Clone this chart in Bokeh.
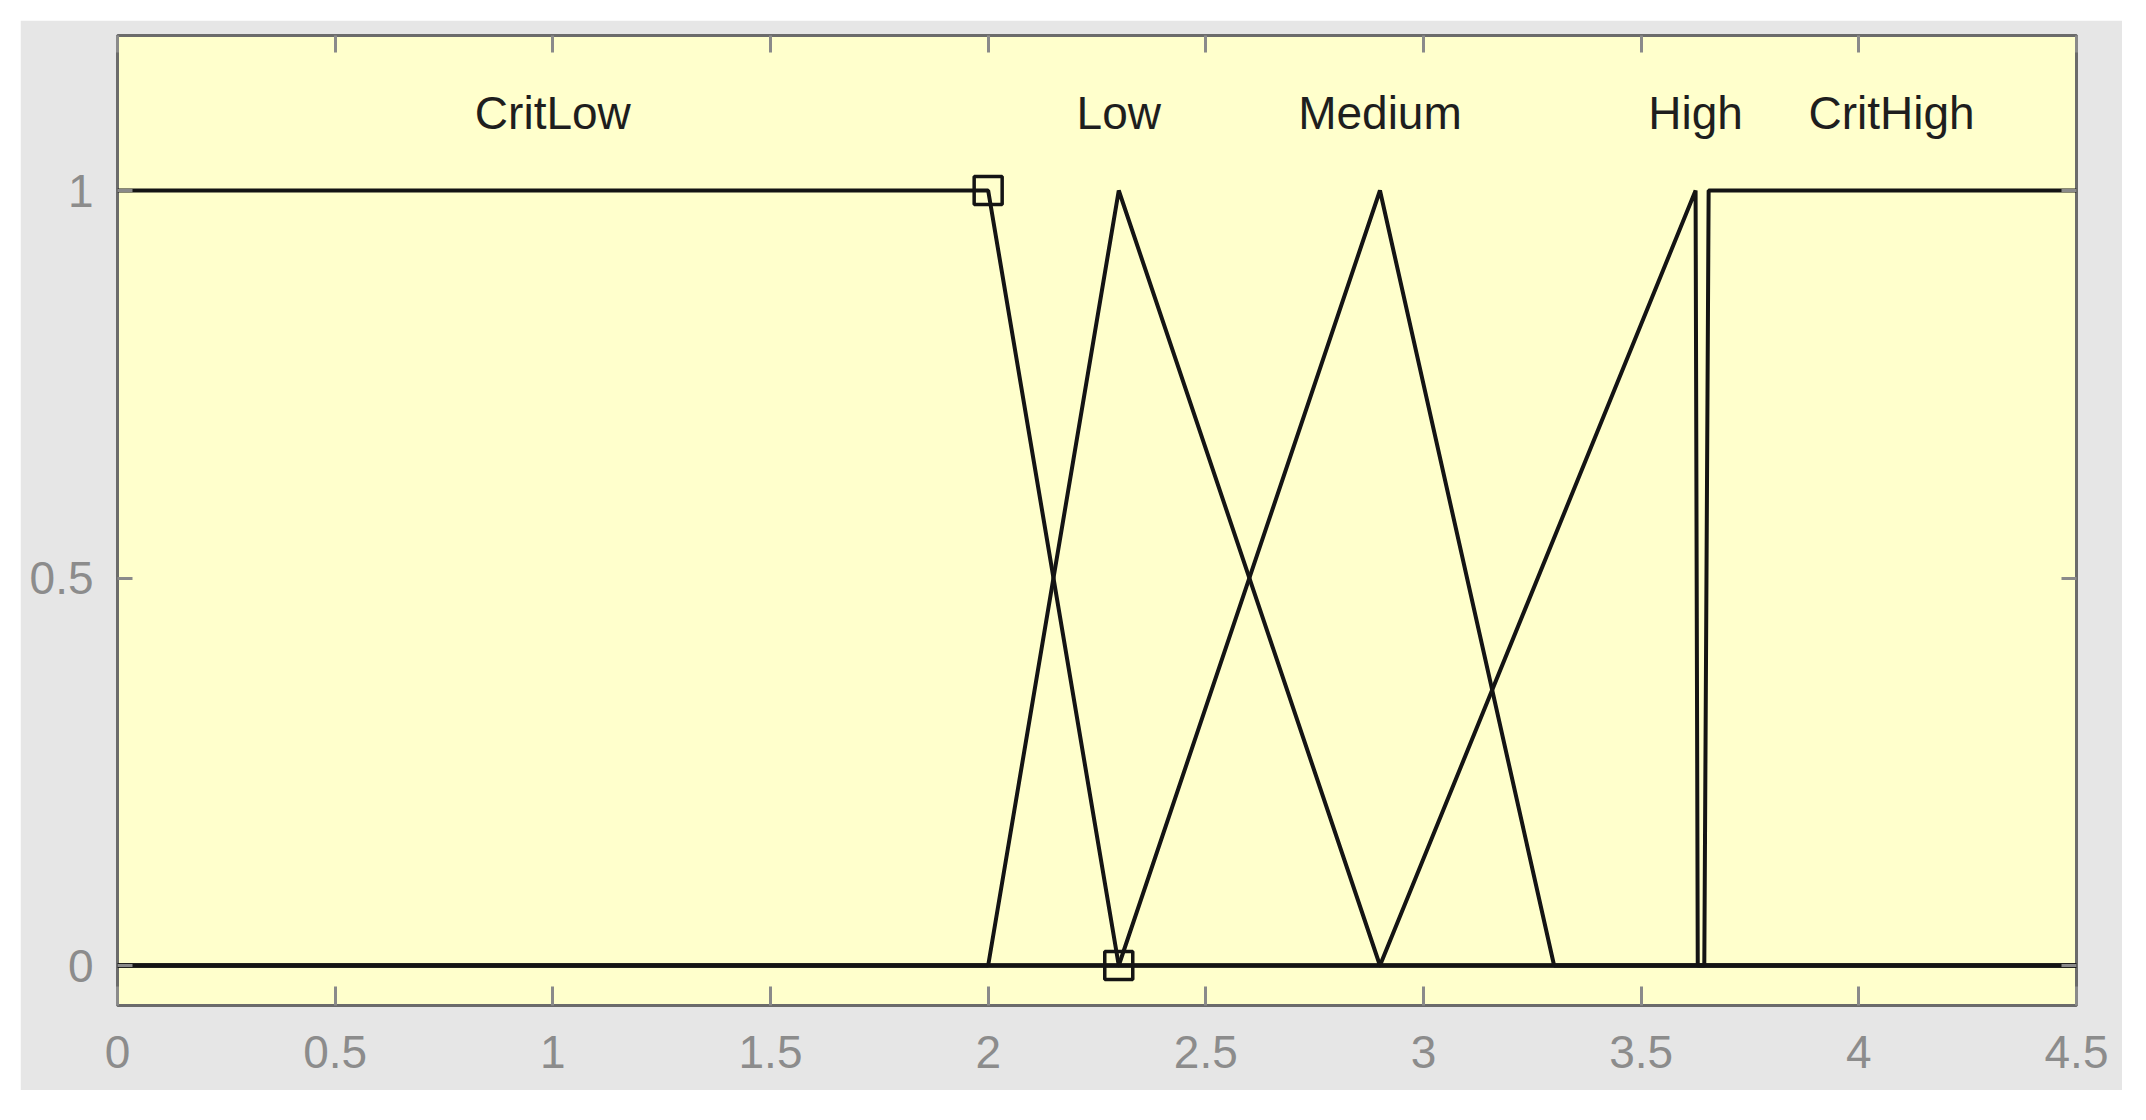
from bokeh.plotting import figure
from bokeh.models import Range1d, LinearAxis, FixedTicker, ColumnDataSource, Spacer
from bokeh.layouts import row, column
from bokeh.core.properties import value
from bokeh.embed import file_html
from bokeh.resources import INLINE

# ---- data ----
x_ticks = [0, 0.5, 1, 1.5, 2, 2.5, 3, 3.5, 4, 4.5]
x_tick_labels = ["0", "0.5", "1", "1.5", "2", "2.5", "3", "3.5", "4", "4.5"]
y_ticks = [0, 0.5, 1]
y_tick_labels = ["0", "0.5", "1"]

mf_names = ["CritLow", "Low", "Medium", "High", "CritHigh"]
critlow_x = [0, 2.0, 2.3, 4.5]
critlow_y = [1, 1, 0, 0]
low_x = [0, 2.0, 2.3, 2.9, 4.5]
low_y = [0, 0, 1, 0, 0]
medium_x = [0, 2.3, 2.9, 3.3, 4.5]
medium_y = [0, 0, 1, 0, 0]
high_x = [0, 2.9, 3.625, 3.63, 4.5]
high_y = [0, 0, 1, 0, 0]
crithigh_x = [0, 3.645, 3.655, 4.5]
crithigh_y = [0, 0, 1, 1]
label_x = [1.0, 2.3, 2.9, 3.625, 4.075]
label_y = [1.1, 1.1, 1.1, 1.1, 1.1]
# selected MF (CritLow) vertex markers
marker_x = [2.0, 2.3]
marker_y = [1, 0]

FONT = "Liberation Sans"

p = figure(width=2102, height=1070, output_backend="svg", toolbar_location=None,
           x_range=Range1d(0, 4.5), y_range=Range1d(-0.0516, 1.2),
           x_axis_location=None, y_axis_location=None)
p.min_border_left = 97
p.min_border_right = 46
p.min_border_top = 15
p.min_border_bottom = 85
p.border_fill_color = "#E6E6E6"
p.background_fill_color = "#FFFFCC"
p.outline_line_color = "#6b6b6b"
p.outline_line_width = 3
p.xgrid.visible = False
p.ygrid.visible = False

xo = {t: l for t, l in zip(x_ticks, x_tick_labels)}
yo = {t: l for t, l in zip(y_ticks, y_tick_labels)}

def style_axis(ax, ticks, overrides, tick_len, show_labels, standoff):
    ax.ticker = FixedTicker(ticks=ticks)
    ax.major_label_overrides = overrides
    ax.axis_line_color = None
    ax.major_tick_in = tick_len
    ax.major_tick_out = 0
    ax.major_tick_line_color = "#8a8a8a"
    ax.major_tick_line_width = 3
    ax.minor_tick_line_color = None
    ax.major_label_text_color = "#8c8c8c"
    ax.major_label_text_font = FONT
    ax.major_label_standoff = standoff
    if show_labels:
        ax.major_label_text_font_size = "46px"
    else:
        ax.major_label_text_font_size = "0px"
        ax.major_label_text_alpha = 0

bottom = LinearAxis()
style_axis(bottom, x_ticks, xo, 19, True, 30)
p.add_layout(bottom, "below")
top = LinearAxis()
style_axis(top, x_ticks, xo, 17, False, 0)
p.add_layout(top, "above")
left = LinearAxis()
style_axis(left, y_ticks, yo, 15, True, 24)
p.add_layout(left, "left")
right = LinearAxis()
style_axis(right, y_ticks, yo, 15, False, 0)
p.add_layout(right, "right")

line_color = "#141414"
for xs, ys in [(critlow_x, critlow_y), (low_x, low_y), (medium_x, medium_y),
               (high_x, high_y), (crithigh_x, crithigh_y)]:
    p.line(xs, ys, line_color=line_color, line_width=4)

p.scatter(marker_x, marker_y, marker="square", size=28, fill_color=None,
          line_color=line_color, line_width=3.5)

src = ColumnDataSource(dict(x=label_x, y=label_y, t=mf_names))
p.text(x="x", y="y", text="t", source=src, text_font=value(FONT),
       text_font_size="46px", text_color="#1e1e1e", text_align="center",
       text_baseline="middle")

layout = column(Spacer(width=2114, height=20),
                row(Spacer(width=20, height=1070), p))

open("out.html", "w").write(file_html(layout, INLINE))
